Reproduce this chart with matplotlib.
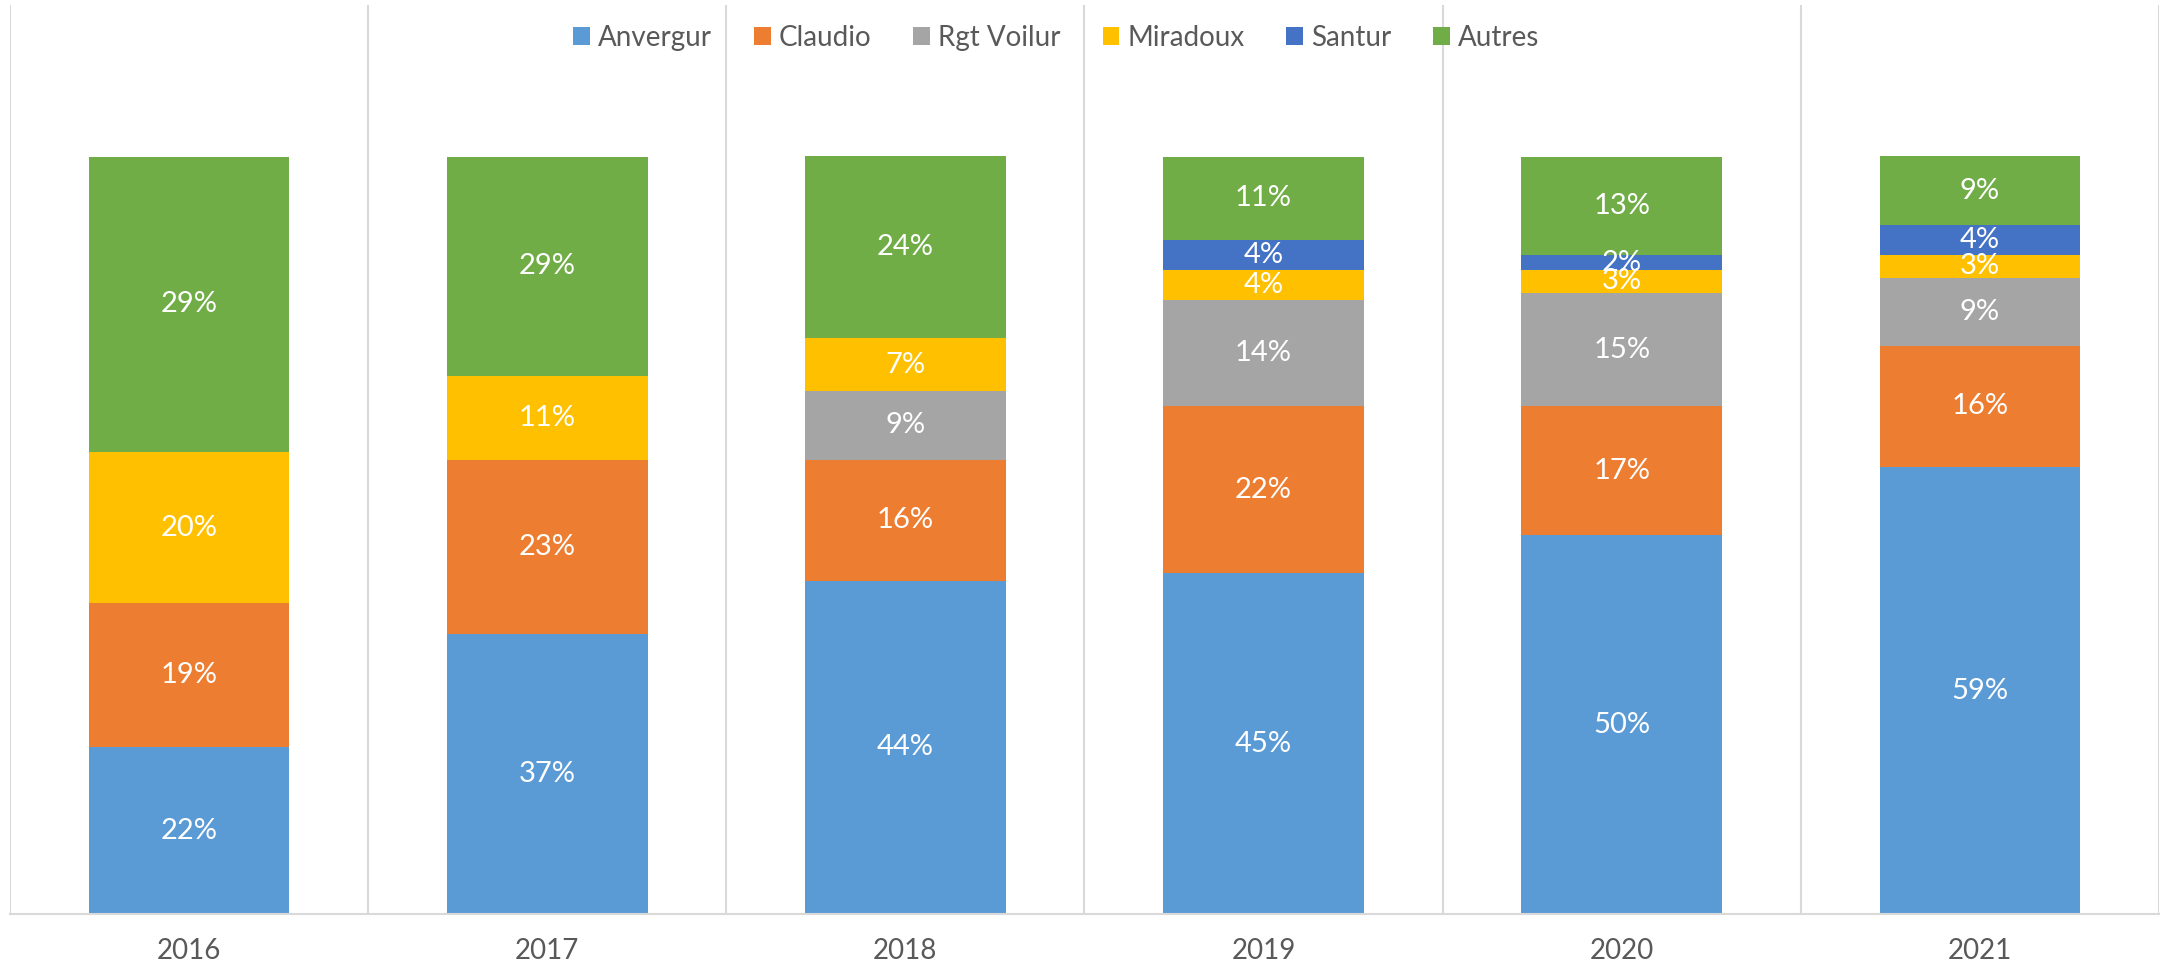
import numpy as np
import matplotlib.pyplot as plt
from matplotlib.patches import Patch

plt.rcParams['font.family'] = ['Lato', 'DejaVu Sans']

years = ['2016', '2017', '2018', '2019', '2020', '2021']
anvergur = [22, 37, 44, 45, 50, 59]
claudio = [19, 23, 16, 22, 17, 16]
rgt_voilur = [0, 0, 9, 14, 15, 9]
miradoux = [20, 11, 7, 4, 3, 3]
santur = [0, 0, 0, 4, 2, 4]
autres = [39, 29, 24, 11, 13, 9]
# the 2016 "Autres" label in the source reads 29% although the bar is 39% tall
autres_labels = ['29%', '29%', '24%', '11%', '13%', '9%']

series = [
    ('Anvergur', anvergur, '#5B9BD5'),
    ('Claudio', claudio, '#ED7D31'),
    ('Rgt Voilur', rgt_voilur, '#A5A5A5'),
    ('Miradoux', miradoux, '#FFC000'),
    ('Santur', santur, '#4472C4'),
    ('Autres', autres, '#70AD47'),
]

fig = plt.figure(figsize=(21.64, 9.66), dpi=100)
ax = fig.add_axes([10 / 2164, 52 / 966, 2149 / 2164, 909 / 966])

x = np.arange(len(years))
bottom = np.zeros(len(years))
for name, vals, color in series:
    vals = np.array(vals, dtype=float) / 100
    ax.bar(x, vals, 0.56, bottom=bottom, color=color, label=name, zorder=2)
    for i, v in enumerate(vals):
        if v <= 0:
            continue
        txt = autres_labels[i] if name == 'Autres' else f'{round(v * 100)}%'
        ax.text(x[i], bottom[i] + v / 2, txt, ha='center', va='center',
                color='white', fontsize=21, zorder=3)
    bottom += vals

ax.set_xlim(-0.5, len(years) - 0.5)
ax.set_ylim(0, 1.2)
ax.set_yticks([])
ax.set_xticks(x)
ax.set_xticklabels(years, fontsize=20, color='#595959')
ax.tick_params(axis='x', length=0, pad=17)
for s in ['top', 'left', 'right']:
    ax.spines[s].set_visible(False)
ax.spines['bottom'].set_color('#D9D9D9')
ax.spines['bottom'].set_linewidth(1.5)

# vertical separators between categories
for b in np.arange(len(years) + 1) - 0.5:
    ax.axvline(b, color='#D9D9D9', lw=1.5, zorder=1)

handles = [Patch(facecolor=c, label=n) for n, _, c in series]
ax.legend(handles=handles, loc='upper center', bbox_to_anchor=(0.487, 1.006),
          ncol=6, frameon=False, fontsize=20, handlelength=0.6,
          handleheight=0.6, handletextpad=0.3, columnspacing=1.5,
          labelcolor='#595959')

fig.savefig('out.png', dpi=100)
